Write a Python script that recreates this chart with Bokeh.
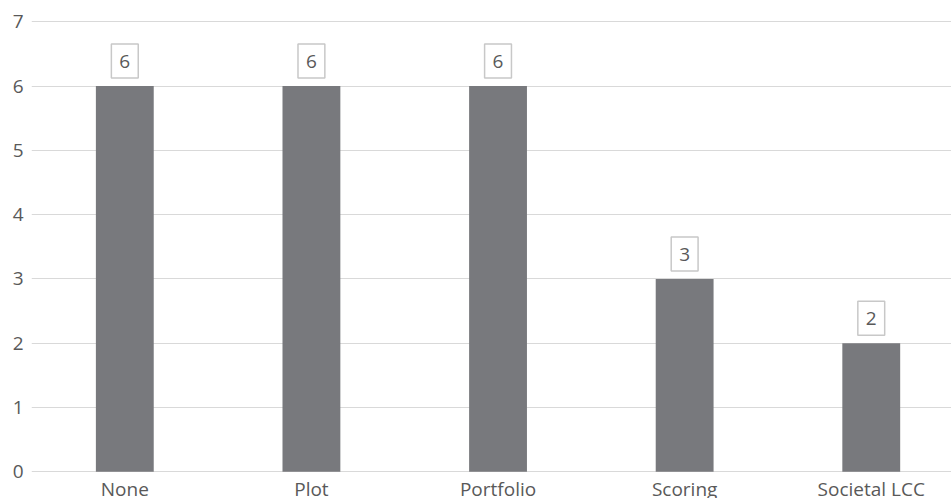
from bokeh.plotting import figure
from bokeh.models import Range1d, FixedTicker, Label
from bokeh.layouts import column
from bokeh.core.properties import value
from bokeh.embed import file_html
from bokeh.resources import INLINE

categories = ["None", "Plot", "Portfolio", "Scoring", "Societal LCC"]
values = [6, 6, 6, 3, 2]
y_ticks = [0, 1, 2, 3, 4, 5, 6, 7]

FONT = "Open Sans"
TXT = "#595959"
FS = "19px"

xs = list(range(len(categories)))
xr = Range1d(-0.5, 4.43)

p = figure(width=951, height=480, output_backend="svg", toolbar_location=None,
           x_range=xr, y_range=Range1d(-0.01, 7.02),
           min_border_left=31, min_border_right=0, min_border_top=20, min_border_bottom=8)
p.outline_line_color = None
p.background_fill_color = "white"
p.border_fill_color = "white"

p.vbar(x=xs, top=values, width=0.31, bottom=0, fill_color="#78797d", line_color=None)

for x, v in zip(xs, values):
    p.add_layout(Label(x=x, y=v, text=str(v), text_align="center", text_baseline="bottom",
                       y_offset=8, text_font=FONT, text_font_size=FS, text_color=TXT,
                       border_line_color="#c8c8c8", border_line_width=1.5,
                       background_fill_color="white",
                       padding=dict(left=8, right=8, top=11, bottom=10)))

p.xgrid.visible = False
p.xaxis.visible = False
p.ygrid.grid_line_color = "#d9d9d9"
p.ygrid.grid_line_width = 1.2
p.ygrid.ticker = FixedTicker(ticks=y_ticks)

ax = p.yaxis[0]
ax.ticker = FixedTicker(ticks=y_ticks)
ax.axis_line_color = None
ax.major_tick_line_color = None
ax.minor_tick_line_color = None
ax.major_tick_out = 0
ax.major_tick_in = 0
ax.minor_tick_out = 0
ax.minor_tick_in = 0
ax.major_label_text_font = FONT
ax.major_label_text_font_size = FS
ax.major_label_text_color = TXT
ax.major_label_standoff = 8

# category labels strip under the plot, sharing the x range
q = figure(width=951, height=18, output_backend="svg", toolbar_location=None,
           x_range=xr, y_range=Range1d(0, 1),
           min_border_left=31, min_border_right=0, min_border_top=0, min_border_bottom=0)
q.outline_line_color = None
q.axis.visible = False
q.grid.visible = False
q.border_fill_color = "white"
q.text(x=xs, y=[1] * len(xs), text=categories, text_align="center", text_baseline="top",
       y_offset=-5, text_font=value(FONT), text_font_size=FS, text_color=TXT)

layout = column(p, q, spacing=0)
open("out.html", "w").write(file_html(layout, INLINE))
